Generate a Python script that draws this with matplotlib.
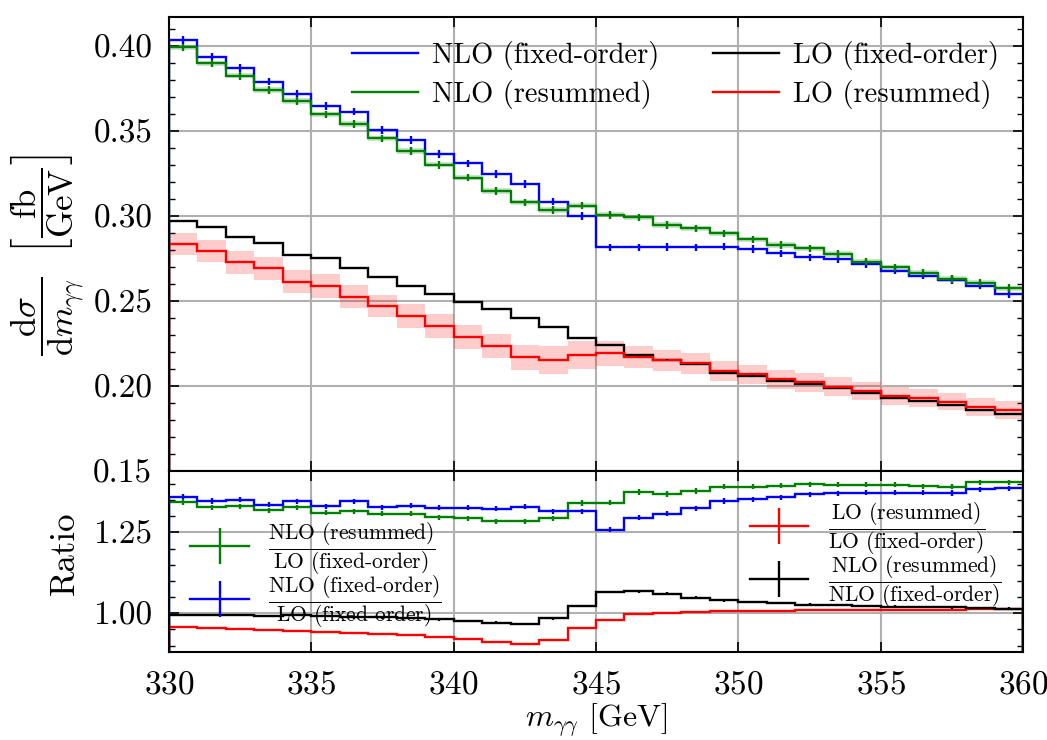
import matplotlib
matplotlib.use("Agg")
import matplotlib.pyplot as plt
import matplotlib.ticker as mticker
from matplotlib.lines import Line2D
import numpy as np

plt.rcParams["font.family"] = "serif"
plt.rcParams["font.serif"] = ["cmr10"]
plt.rcParams["mathtext.fontset"] = "cm"
plt.rcParams["axes.formatter.use_mathtext"] = True

# bin edges, m_yy in GeV
edges = np.arange(330, 361, 1)

nlo_fixed = [0.4035, 0.3937, 0.3869, 0.3790, 0.3718, 0.3647, 0.3614, 0.3506, 0.3447, 0.3365,
             0.3310, 0.3247, 0.3188, 0.3084, 0.3000, 0.2816, 0.2816, 0.2818, 0.2815, 0.2820,
             0.2806, 0.2780, 0.2757, 0.2747, 0.2718, 0.2678, 0.2649, 0.2624, 0.2590, 0.2540]
nlo_resum = [0.3992, 0.3898, 0.3824, 0.3741, 0.3676, 0.3598, 0.3541, 0.3457, 0.3382, 0.3300,
             0.3225, 0.3147, 0.3080, 0.3035, 0.3060, 0.3006, 0.2992, 0.2947, 0.2927, 0.2898,
             0.2863, 0.2829, 0.2810, 0.2776, 0.2731, 0.2698, 0.2667, 0.2629, 0.2608, 0.2575]
lo_fixed = [0.2973, 0.2937, 0.2875, 0.2843, 0.2771, 0.2751, 0.2692, 0.2639, 0.2590, 0.2541,
            0.2492, 0.2453, 0.2402, 0.2349, 0.2284, 0.2241, 0.2182, 0.2153, 0.2129, 0.2078,
            0.2059, 0.2029, 0.2012, 0.1986, 0.1957, 0.1928, 0.1914, 0.1888, 0.1859, 0.1833]
lo_resum = [0.2833, 0.2794, 0.2727, 0.2692, 0.2614, 0.2588, 0.2525, 0.2471, 0.2412, 0.2353,
            0.2290, 0.2235, 0.2169, 0.2153, 0.2182, 0.2192, 0.2173, 0.2150, 0.2133, 0.2088,
            0.2069, 0.2039, 0.2022, 0.1996, 0.1971, 0.1941, 0.1928, 0.1908, 0.1878, 0.1859]

# scale uncertainty bands (half widths)
nlo_resum_band = [0.0015] * 30
lo_resum_band = [0.0064, 0.0066, 0.0069, 0.0068, 0.0067, 0.0069, 0.0067, 0.0067, 0.0069, 0.0069,
                 0.0071, 0.0069, 0.0075, 0.0082, 0.0080, 0.0075, 0.0065, 0.0062, 0.0060, 0.0058,
                 0.0057, 0.0056, 0.0055, 0.0055, 0.0054, 0.0053, 0.0053, 0.0052, 0.0052, 0.0052]

# statistical errors
nlo_err = 0.0022
lo_err = 0.0005

# ratios
r_nlofix_lofix = [1.361, 1.347, 1.351, 1.336, 1.346, 1.331, 1.346, 1.328, 1.333, 1.326,
                  1.326, 1.323, 1.330, 1.315, 1.315, 1.259, 1.295, 1.308, 1.325, 1.347,
                  1.352, 1.359, 1.368, 1.371, 1.373, 1.373, 1.373, 1.372, 1.383, 1.387]
r_nlores_lofix = [1.344, 1.328, 1.331, 1.318, 1.328, 1.311, 1.316, 1.308, 1.308, 1.297,
                  1.294, 1.285, 1.285, 1.294, 1.341, 1.342, 1.375, 1.369, 1.378, 1.392,
                  1.392, 1.395, 1.399, 1.398, 1.398, 1.397, 1.393, 1.392, 1.405, 1.405]
r_lores_lofix = [0.956, 0.953, 0.950, 0.948, 0.945, 0.942, 0.940, 0.937, 0.933, 0.927,
                 0.919, 0.912, 0.906, 0.917, 0.953, 0.979, 0.999, 1.002, 1.004, 1.006,
                 1.007, 1.008, 1.009, 1.009, 1.010, 1.011, 1.011, 1.011, 1.012, 1.012]
r_nlores_nlofix = [0.994, 0.995, 0.994, 0.992, 0.994, 0.992, 0.987, 0.987, 0.985, 0.981,
                   0.976, 0.971, 0.967, 0.984, 1.022, 1.066, 1.068, 1.061, 1.048, 1.040,
                   1.035, 1.032, 1.027, 1.025, 1.022, 1.020, 1.019, 1.018, 1.016, 1.014]
r_err_nlo = 0.008
r_err_lo = 0.004

centers = 0.5 * (edges[1:] + edges[:-1])

fig = plt.figure(figsize=(10.47, 7.40), dpi=100)
ax1 = fig.add_axes([0.1614, 0.3635, 0.8157, 0.6135])
ax2 = fig.add_axes([0.1614, 0.1189, 0.8157, 0.2446], sharex=ax1)

lw = 1.7


def band(ax, vals, hw, color):
    vals = np.array(vals)
    hw = np.array(hw)
    ax.stairs(vals + hw, edges, baseline=vals - hw, fill=True, color=color, alpha=0.2, lw=0)


band(ax1, nlo_resum, nlo_resum_band, "green")
band(ax1, lo_resum, lo_resum_band, "red")

for vals, col, err in [(nlo_fixed, "blue", nlo_err), (nlo_resum, "green", nlo_err),
                       (lo_fixed, "black", lo_err), (lo_resum, "red", lo_err)]:
    ax1.stairs(vals, edges, color=col, lw=lw)
    ax1.errorbar(centers, vals, yerr=err, fmt="none", ecolor=col, elinewidth=lw)

handles = [Line2D([], [], color="blue", lw=lw), Line2D([], [], color="green", lw=lw),
           Line2D([], [], color="black", lw=lw), Line2D([], [], color="red", lw=lw)]
labels = ["NLO (fixed-order)", "NLO (resummed)", "LO (fixed-order)", "LO (resummed)"]
ax1.legend(handles, labels, ncol=2, loc="upper right", frameon=False, fontsize=20.5,
           handlelength=2.3, handletextpad=0.5, columnspacing=1.9, labelspacing=0.35,
           borderaxespad=0.45, bbox_to_anchor=(1.0, 1.0))

ax1.set_ylim(0.15, 0.417)
ax1.yaxis.set_major_locator(mticker.MultipleLocator(0.05))
ax1.yaxis.set_minor_locator(mticker.MultipleLocator(0.01))
ax1.yaxis.set_major_formatter(mticker.FormatStrFormatter("%.2f"))
ax1.tick_params(labelbottom=False)
fig.text(48 / 1047, 1 - 255 / 740,
         r"$\dfrac{\mathrm{d}\sigma}{\mathrm{d}m_{\gamma\gamma}}\ \ \left[\dfrac{\mathrm{fb}}{\mathrm{GeV}}\right]$",
         fontsize=25, rotation=90, ha="center", va="center")

for vals, col, err in [(r_nlores_lofix, "green", r_err_nlo), (r_nlofix_lofix, "blue", r_err_nlo),
                       (r_lores_lofix, "red", 0.0), (r_nlores_nlofix, "black", r_err_lo)]:
    ax2.stairs(vals, edges, color=col, lw=lw)
    if err > 0:
        ax2.errorbar(centers, vals, yerr=err, fmt="none", ecolor=col, elinewidth=lw)

ax2.set_ylim(0.88, 1.44)
ax2.yaxis.set_major_locator(mticker.MultipleLocator(0.25))
ax2.yaxis.set_minor_locator(mticker.MultipleLocator(0.05))
ax2.yaxis.set_major_formatter(mticker.FormatStrFormatter("%.2f"))
fig.text(65 / 1047, 1 - 553 / 740, "Ratio", fontsize=25, rotation=90, ha="center", va="center")
ax2.set_xlim(330, 360)
ax2.xaxis.set_major_locator(mticker.MultipleLocator(5))
ax2.set_xlabel(r"$m_{\gamma\gamma}$ [GeV]", fontsize=23, labelpad=2)


def ebar_handle(col):
    return Line2D([], [], color=col, lw=lw, marker="|", markersize=26, mew=lw)


leg_l = ax2.legend([ebar_handle("green"), ebar_handle("blue")],
                   [r"$\dfrac{\text{NLO (resummed)}}{\text{LO (fixed-order)}}$",
                    r"$\dfrac{\text{NLO (fixed-order)}}{\text{LO (fixed-order)}}$"],
                   loc="upper left", bbox_to_anchor=(0.01, 0.80), frameon=False, fontsize=15.5,
                   handlelength=2.7, handletextpad=0.9, labelspacing=-0.15, borderaxespad=0.2)
ax2.add_artist(leg_l)
ax2.legend([ebar_handle("red"), ebar_handle("black")],
           [r"$\dfrac{\text{LO (resummed)}}{\text{LO (fixed-order)}}$",
            r"$\dfrac{\text{NLO (resummed)}}{\text{NLO (fixed-order)}}$"],
           loc="upper right", bbox_to_anchor=(0.99, 0.91), frameon=False, fontsize=15.5,
           handlelength=2.7, handletextpad=0.9, labelspacing=-0.15, borderaxespad=0.2)

for ax in (ax1, ax2):
    ax.grid(True, which="major", color="#b0b0b0", lw=1.5)
    ax.set_axisbelow(True)
    ax.tick_params(which="both", direction="in", top=True, right=True, labelsize=24, pad=12)
    ax.tick_params(which="major", length=7, width=1.2)
    ax.tick_params(which="minor", length=4, width=1.0)
    for s in ax.spines.values():
        s.set_linewidth(1.5)
ax1.tick_params(axis="x", which="minor", bottom=False, top=False)
ax2.tick_params(axis="x", which="minor", bottom=False, top=False)
ax2.tick_params(axis="x", pad=13)

fig.savefig("out.png", dpi=100)
